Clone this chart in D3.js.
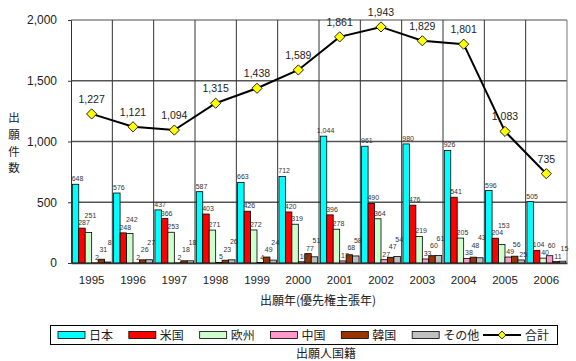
<!DOCTYPE html>
<html>
<head>
<meta charset="utf-8">
<script src="https://cdn.jsdelivr.net/npm/d3@7"></script>
<style>
  body { margin: 0; background: #fff; }
  svg { display: block; }
  text { font-family: "Liberation Sans", Arial, sans-serif; fill: #222; }
  .jp { font-family: "Noto Sans CJK JP", sans-serif; }
</style>
</head>
<body>
<svg id="chart" width="576" height="361"></svg>
<script>
// 出願年
var years = ["1995", "1996", "1997", "1998", "1999", "2000", "2001", "2002", "2003", "2004", "2005", "2006"];
// 出願人国籍
var seriesNames = ["日本", "米国", "欧州", "中国", "韓国", "その他"];
var japan  = [648, 576, 437, 587, 663, 712, 1044, 961, 980, 926, 596, 505];
var usa    = [287, 248, 366, 403, 426, 420, 396, 490, 476, 541, 204, 104];
var europe = [251, 242, 253, 271, 272, 319, 278, 364, 219, 205, 153, 40];
var china  = [2, 2, 2, 5, 4, 10, 17, 27, 33, 38, 49, 60];
var korea  = [31, 26, 18, 23, 49, 77, 68, 47, 60, 48, 56, 11];
var others = [8, 27, 18, 26, 24, 51, 58, 54, 61, 43, 25, 15];
var totals = [1227, 1121, 1094, 1315, 1438, 1589, 1861, 1943, 1829, 1801, 1083, 735];
var yTicks = [0, 500, 1000, 1500, 2000];

var colors = ["#00FFFF", "#FF0000", "#CCFFCC", "#FF99CC", "#993300", "#C0C0C0"];
var values = [japan, usa, europe, china, korea, others];

var svg = d3.select("#chart");
// "top" is taken by window.top, so use plot* names
var plotLeft = 71, plotRight = 567, plotTop = 20, plotBottom = 263;

var x0 = d3.scaleBand().domain(years).range([plotLeft, plotRight]).padding(0);
var x1 = d3.scaleBand().domain(seriesNames).range([0, x0.bandwidth()])
    .paddingInner(0).paddingOuter(0.2);
var y = d3.scaleLinear().domain([0, 2000]).range([plotBottom, plotTop]);

// gridlines
svg.append("g").selectAll("line")
    .data(yTicks.filter(function (d) { return d > 0; }))
    .enter().append("line")
    .attr("x1", plotLeft).attr("x2", plotRight)
    .attr("y1", function (d) { return y(d); })
    .attr("y2", function (d) { return y(d); })
    .attr("stroke", function (d) { return d === 2000 ? "#888" : "#555"; })
    .attr("stroke-width", 1.3);

svg.append("g").selectAll("line")
    .data(years.slice(1).concat(["end"]))
    .enter().append("line")
    .attr("x1", function (d, i) { return plotLeft + (i + 1) * x0.step(); })
    .attr("x2", function (d, i) { return plotLeft + (i + 1) * x0.step(); })
    .attr("y1", plotTop).attr("y2", plotBottom)
    .attr("stroke", function (d) { return d === "end" ? "#777" : "#333"; })
    .attr("stroke-width", 1);

// bars
var rows = years.map(function (yr, i) {
    return { year: yr, vals: seriesNames.map(function (s, k) { return { s: s, k: k, v: values[k][i] }; }) };
});

var groups = svg.append("g").selectAll("g")
    .data(rows)
    .enter().append("g")
    .attr("transform", function (d) { return "translate(" + x0(d.year) + ",0)"; });

groups.selectAll("rect")
    .data(function (d) { return d.vals; })
    .enter().append("rect")
    .attr("x", function (d) { return x1(d.s); })
    .attr("y", function (d) { return y(d.v); })
    .attr("width", x1.bandwidth())
    .attr("height", function (d) { return plotBottom - y(d.v); })
    .attr("fill", function (d) { return colors[d.k]; })
    .attr("stroke", "#000").attr("stroke-width", 0.8);

// value labels: put above the bar, push up when they run into the one before
groups.each(function (row) {
    var g = d3.select(this);
    var placed = [];
    row.vals.forEach(function (d) {
        var t = g.append("text")
            .attr("x", x1(d.s) + x1.bandwidth() / 2 + 2)
            .attr("text-anchor", "middle")
            .style("font-size", "7px")
            .style("fill", "#333")
            .text(d3.format(",")(d.v));
        var w = t.node().getComputedTextLength() + 1;
        var cxl = x1(d.s) + x1.bandwidth() / 2 + 2;
        var by = y(d.v) - 3;
        var moved = true;
        while (moved) {
            moved = false;
            placed.forEach(function (p) {
                if (Math.abs(p.x - cxl) < (p.w + w) / 2 && Math.abs(p.y - by) < 7) {
                    by = p.y - 7.5;
                    moved = true;
                }
            });
        }
        t.attr("y", by);
        placed.push({ x: cxl, y: by, w: w });
    });
});

// axes
var yAxis = d3.axisLeft(y).tickValues(yTicks).tickFormat(d3.format(",")).tickSize(3).tickPadding(11);
var gy = svg.append("g").attr("transform", "translate(" + plotLeft + ",0)").call(yAxis);
gy.select(".domain").attr("stroke", "#333");
gy.selectAll("line").attr("stroke", "#333");
gy.selectAll("text").style("font-size", "12px").style("fill", "#222")
    .style("font-family", "'Liberation Sans', Arial, sans-serif");

var xAxis = d3.axisBottom(x0).tickSize(0).tickPadding(13);
var gx = svg.append("g").attr("transform", "translate(0," + plotBottom + ")").call(xAxis);
gx.select(".domain").attr("stroke", "#333").attr("stroke-width", 1.3);
gx.selectAll("text").style("font-size", "11.5px").style("fill", "#222")
    .style("font-family", "'Liberation Sans', Arial, sans-serif");

// total line
var cx = function (d, i) { return x0(years[i]) + x0.bandwidth() / 2; };
var line = d3.line()
    .x(function (d, i) { return cx(d, i); })
    .y(function (d) { return y(d); });
svg.append("path").datum(totals)
    .attr("d", line).attr("fill", "none")
    .attr("stroke", "#000").attr("stroke-width", 2);

svg.append("g").selectAll("path")
    .data(totals)
    .enter().append("path")
    .attr("d", d3.symbol(d3.symbolSquare, 52))
    .attr("transform", function (d, i) { return "translate(" + cx(d, i) + "," + y(d) + ") rotate(45)"; })
    .attr("fill", "#FFFF00").attr("stroke", "#000").attr("stroke-width", 0.8);

svg.append("g").selectAll("text")
    .data(totals)
    .enter().append("text")
    .attr("x", function (d, i) { return cx(d, i); })
    .attr("y", function (d) { return y(d) - 11; })
    .attr("text-anchor", "middle")
    .style("font-size", "10.5px")
    .text(function (d) { return d3.format(",")(d); });

// axis titles
svg.append("text").attr("class", "jp")
    .attr("x", (plotLeft + plotRight) / 2 - 1).attr("y", 305)
    .attr("text-anchor", "middle").style("font-size", "12px")
    .text("出願年(優先権主張年)");

svg.append("g").selectAll("text")
    .data(["出", "願", "件", "数"])
    .enter().append("text")
    .attr("class", "jp")
    .attr("x", 14)
    .attr("y", function (d, i) { return 122 + i * 16.8; })
    .attr("text-anchor", "middle")
    .style("font-size", "11.5px")
    .text(function (d) { return d; });

// legend
var legend = svg.append("g");
legend.append("rect").attr("x", 50.5).attr("y", 325.5).attr("width", 507).attr("height", 19)
    .attr("fill", "#fff").attr("stroke", "#000").attr("stroke-width", 1);

var legendItems = seriesNames.concat(["合計"]);
var lx = d3.scalePoint().domain(legendItems).range([58, 483]);
var li = legend.selectAll("g.item")
    .data(legendItems)
    .enter().append("g")
    .attr("transform", function (d) { return "translate(" + lx(d) + ",335)"; });

li.filter(function (d, i) { return i < 6; }).append("rect")
    .attr("x", 0).attr("y", -3.5).attr("width", 27).attr("height", 7)
    .attr("fill", function (d) { return colors[seriesNames.indexOf(d)]; })
    .attr("stroke", "#000").attr("stroke-width", 0.8);

var lineItem = li.filter(function (d, i) { return i === 6; });
lineItem.append("line").attr("x1", 0).attr("x2", 38).attr("y1", 0).attr("y2", 0)
    .attr("stroke", "#000").attr("stroke-width", 2);
lineItem.append("path")
    .attr("d", d3.symbol(d3.symbolSquare, 30))
    .attr("transform", "translate(19,0) rotate(45)")
    .attr("fill", "#FFFF00").attr("stroke", "#000").attr("stroke-width", 0.8);

li.append("text").attr("class", "jp")
    .attr("x", function (d, i) { return i < 6 ? 31 : 42; })
    .attr("y", 4.5)
    .style("font-size", "12px")
    .text(function (d) { return d; });

svg.append("text").attr("class", "jp")
    .attr("x", 326).attr("y", 358)
    .attr("text-anchor", "middle").style("font-size", "12px")
    .text("出願人国籍");
</script>
</body>
</html>
